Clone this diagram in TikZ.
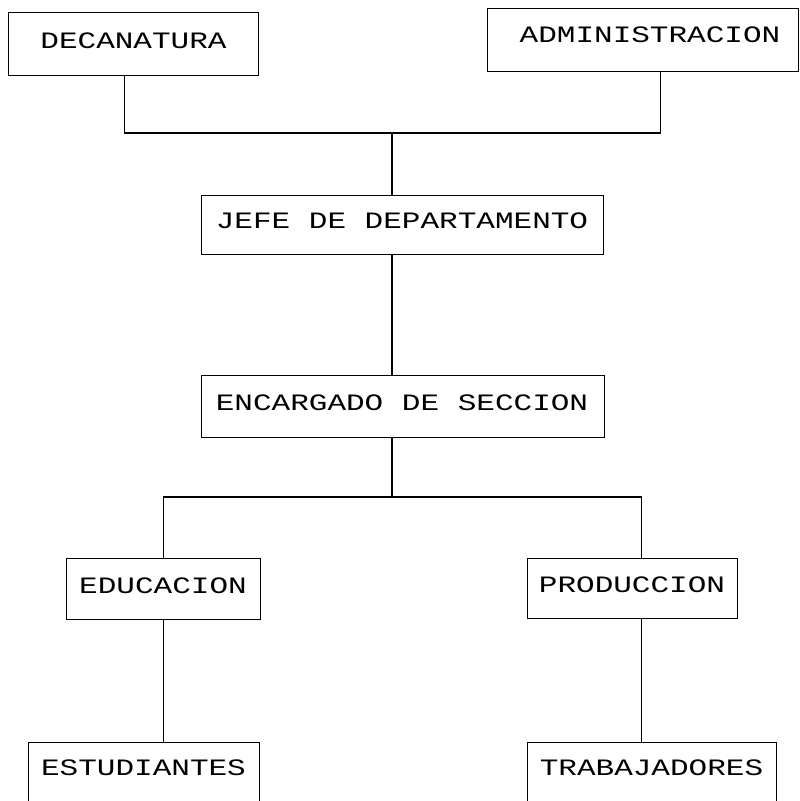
\documentclass[tikz,border=0pt]{standalone}
\usepackage{fontspec}
\newfontfamily\plotfont[FakeStretch=1.32]{Liberation Mono}
\begin{document}
\begin{tikzpicture}[x=1pt,y=-1pt,
  box/.style={draw, line width=1.1pt, rectangle, inner sep=0pt, anchor=north west},
  lbl/.style={anchor=base, inner sep=0pt, font=\plotfont\fontsize{23.5}{24}\selectfont},
  link/.style={line width=1.1pt}]
\useasboundingbox (0,0) rectangle (800,801);
% boxes
\node[box, minimum width=250pt, minimum height=63pt] (dec) at (8,12) {};
\node[box, minimum width=311pt, minimum height=63pt] (adm) at (487,8) {};
\node[box, minimum width=402pt, minimum height=59pt] (jefe) at (201,195) {};
\node[box, minimum width=403pt, minimum height=62pt] (enc) at (201,375) {};
\node[box, minimum width=194pt, minimum height=61pt] (edu) at (66,558) {};
\node[box, minimum width=210pt, minimum height=60pt] (prod) at (527,558) {};
\node[box, minimum width=231pt, minimum height=90pt] (estu) at (28,742) {};
\node[box, minimum width=249pt, minimum height=90pt] (trab) at (527,742) {};
% labels
\node[lbl] (tdec) at (133.5,48) {DECANATURA};
\node[lbl] (tadm) at (650,42) {ADMINISTRACION};
\node[lbl] (tjefe) at (402,228) {JEFE DE DEPARTAMENTO};
\node[lbl] (tenc) at (402,410) {ENCARGADO DE SECCION};
\node[lbl] (tedu) at (163,593) {EDUCACION};
\node[lbl] (tprod) at (632,592) {PRODUCCION};
\node[lbl] (testu) at (143.5,775) {ESTUDIANTES};
\node[lbl] (ttrab) at (651.5,775) {TRABAJADORES};
% junctions
\coordinate (bus1) at (392,133);
\coordinate (bus2) at (392,497);
% connectors
\draw[link] ([xshift=-9pt]dec.south) |- (bus1) -| ([xshift=17.5pt]adm.south);
\draw[link] (bus1) -- (bus1 |- jefe.north);
\draw[link] (bus1 |- jefe.south) -- (bus1 |- enc.north);
\draw[link] (bus1 |- enc.south) -- (bus2);
\draw[link] (edu.north) |- (bus2) -| ([xshift=9pt]prod.north);
\draw[link] (edu.south) -- (edu.south |- estu.north);
\draw[link] ([xshift=9pt]prod.south) -- ([xshift=9pt]prod.south |- trab.north);
\end{tikzpicture}
\end{document}
